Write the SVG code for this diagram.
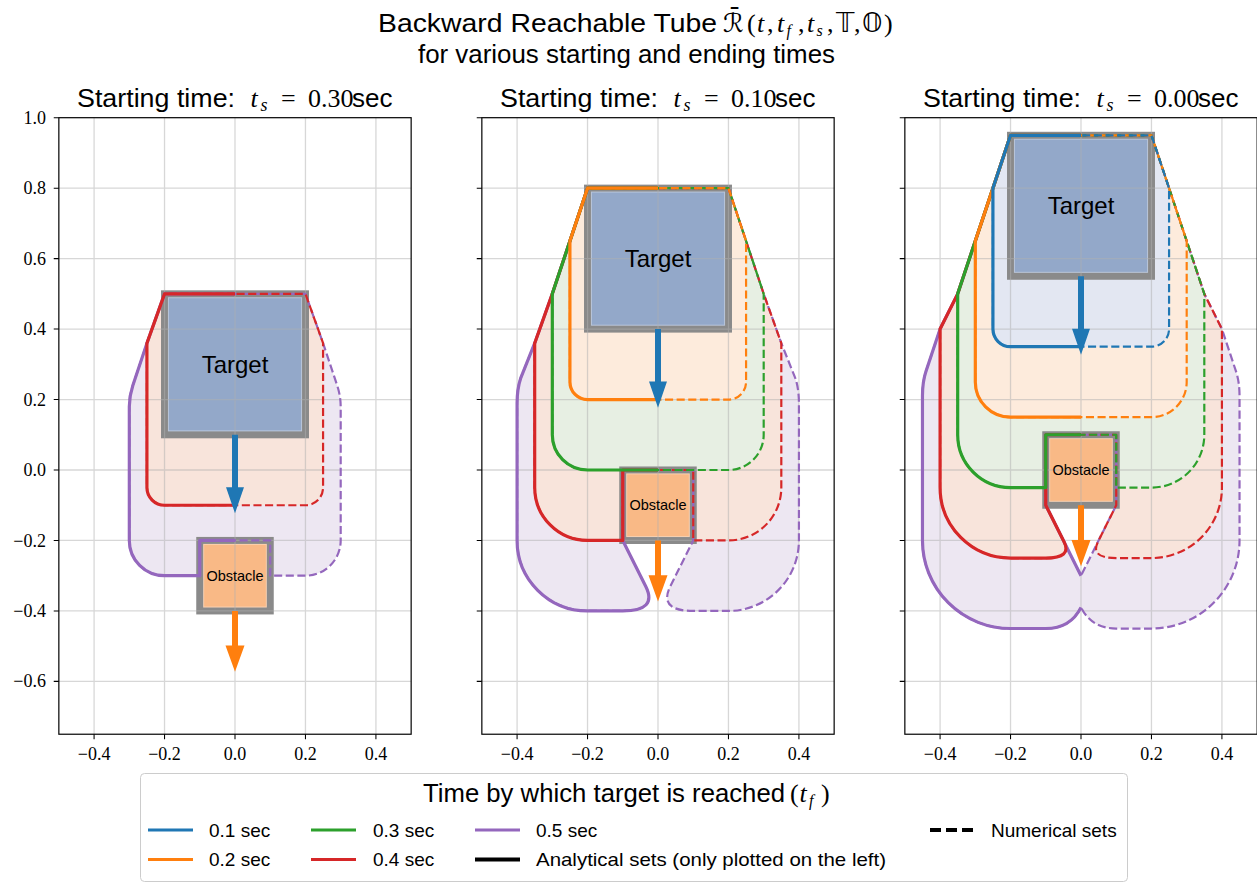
<svg xmlns="http://www.w3.org/2000/svg" width="1257" height="882" viewBox="0 0 1257 882">
<style>
  .sans{font-family:"Liberation Sans",Arial,sans-serif}
  .serif{font-family:"Liberation Serif","Times New Roman",serif}
  .sym{font-family:"DejaVu Sans","DejaVu Serif",sans-serif}
  .it{font-style:italic}
  .tick{font-family:"Liberation Serif","Times New Roman",serif;font-size:18px;fill:#000}
  .grid{fill:none;stroke:#b0b0b0;stroke-opacity:.5;stroke-width:.36}
  .spine{fill:none;stroke:#000;stroke-width:.34}
  .tickm{fill:none;stroke:#000;stroke-width:.3}
  .fP{fill:#ede7f2}
  .fR{fill:#f8e4db}
  .fG{fill:#e7efe3}
  .fO{fill:#fdebdc}
  .fB{fill:#e3e7f2}
  .sol{fill:none;stroke-width:.9;stroke-linejoin:round}
  .dsh{fill:none;stroke-width:.62;stroke-dasharray:2.3 1;stroke-linejoin:round}
  .cP{stroke:#9467bd}
  .cR{stroke:#d62728}
  .cG{stroke:#2ca02c}
  .cO{stroke:#ff7f0e}
  .cB{stroke:#1f77b4}
  .tgt{fill:#93a8c9;stroke:#8a8a8a;stroke-width:2}
  .obs{fill:#f9b986;stroke:#8a8a8a;stroke-width:2}
  .inner{fill:none;stroke:#fff;stroke-opacity:.35;stroke-width:.3}
  .lg{stroke-width:3;fill:none}
</style>
<defs>
  <!-- axes furniture in data units (1 unit = 0.01) -->
  <path id="grid" d="M-40 -75V100M-20 -75V100M0 -75V100M20 -75V100M40 -75V100M-50 80H50M-50 60H50M-50 40H50M-50 20H50M-50 0H50M-50 -20H50M-50 -40H50M-50 -60H50"/>
  <g id="frame">
    <rect class="spine" x="-50" y="-75" width="100" height="175"/>
    <path class="tickm" d="M-40 -75v-1.45M-20 -75v-1.45M0 -75v-1.45M20 -75v-1.45M40 -75v-1.45M-50 100h-1.45M-50 80h-1.45M-50 60h-1.45M-50 40h-1.45M-50 20h-1.45M-50 0h-1.45M-50 -20h-1.45M-50 -40h-1.45M-50 -60h-1.45"/>
  </g>
  <path id="arB" d="M-0.85 0L0.85 0L0.85 -14.9L2.55 -14.9L0 -22.3L-2.55 -14.9L-0.85 -14.9Z"/>
  <path id="arO" d="M-0.85 0L0.85 0L0.85 -9.85L2.7 -9.85L0 -17.3L-2.7 -9.85L-0.85 -9.85Z"/>

  <!-- ts = 0.30 -->
  <path id="s1P" d="M0 50L-20 50L-25 36L-29 24Q-30 21 -30 18L-30 -20A10 10 0 0 1 -20 -30L-10 -30L-10 -20L10 -20L10 -30L20 -30A10 10 0 0 1 30 -20L30 18Q30 21 29 24L25 36L20 50Z"/>
  <path id="s1R" d="M0 50L-20 50L-25 36L-25 -5A5 5 0 0 1 -20 -10L20 -10A5 5 0 0 1 25 -5L25 36L20 50Z"/>

  <!-- ts = 0.10 -->
  <path id="s2P" d="M0 80L-20 80L-25 65L-30 50L-35 36L-39 26Q-40 23 -40 19L-40 -20A20 20 0 0 1 -20 -40L-10 -40Q0 -40 -3.5 -33L-10 -20L-10 0L10 0L10 -20L3.5 -33Q0 -40 10 -40L20 -40A20 20 0 0 1 40 -20L40 19Q40 23 39 26L35 36L30 50L25 65L20 80Z"/>
  <path id="s2R" d="M0 80L-20 80L-25 65L-30 50L-35 36L-35 -5A15 15 0 0 1 -20 -20L-10 -20L-10 0L10 0L10 -20L20 -20A15 15 0 0 1 35 -5L35 36L30 50L25 65L20 80Z"/>
  <path id="s2G" d="M0 80L-20 80L-25 65L-30 50L-30 10A10 10 0 0 1 -20 0L20 0A10 10 0 0 1 30 10L30 50L25 65L20 80Z"/>
  <path id="s2O" d="M0 80L-20 80L-25 65L-25 25A5 5 0 0 1 -20 20L20 20A5 5 0 0 1 25 25L25 65L20 80Z"/>

  <!-- ts = 0.00 -->
  <path id="s3P" fill-rule="evenodd" d="M0 95L-20 95L-25 80L-30 65L-35 50L-40 40L-44 28Q-45 25 -45 21L-45 -20A25 25 0 0 1 -20 -45L-10 -45Q-3 -45 0 -39Q3 -45 10 -45L20 -45A25 25 0 0 1 45 -20L45 21Q45 25 44 28L40 40L35 50L30 65L25 80L20 95ZM0 10L-10 10L-10 -10L0 -30L10 -10L10 10Z"/>
  <path id="s3R" d="M0 95L-20 95L-25 80L-30 65L-35 50L-40 40L-40 -5A20 20 0 0 1 -20 -25L-10 -25Q-2.5 -25 -4.8 -20.4L-10 -10L-10 10L10 10L10 -10L4.8 -20.4Q2.5 -25 10 -25L20 -25A20 20 0 0 1 40 -5L40 40L35 50L30 65L25 80L20 95Z"/>
  <path id="s3G" d="M0 95L-20 95L-25 80L-30 65L-35 50L-35 10A15 15 0 0 1 -20 -5L-10 -5L-10 10L10 10L10 -5L20 -5A15 15 0 0 1 35 10L35 50L30 65L25 80L20 95Z"/>
  <path id="s3O" d="M0 95L-20 95L-25 80L-30 65L-30 25A10 10 0 0 1 -20 15L20 15A10 10 0 0 1 30 25L30 65L25 80L20 95Z"/>
  <path id="s3B" d="M0 95L-20 95L-25 80L-25 40A5 5 0 0 1 -20 35L20 35A5 5 0 0 1 25 40L25 80L20 95Z"/>
</defs>

<rect width="1257" height="882" fill="#fff"/>

<!-- figure title -->
<g id="suptitle" fill="#000">
  <text class="sans" font-size="26" x="378" y="31.7" textLength="339" lengthAdjust="spacingAndGlyphs">Backward Reachable Tube</text>
  <text font-size="26" y="31.7">
    <tspan class="sym" x="723">ℛ̄</tspan>
    <tspan class="serif" x="747">(</tspan>
    <tspan class="serif it" x="757">t</tspan>
    <tspan class="serif" x="767">,</tspan>
    <tspan class="serif it" x="777">t</tspan>
    <tspan class="serif it" x="786.5" dy="4" font-size="16">f</tspan>
    <tspan class="serif" x="798" dy="-4">,</tspan>
    <tspan class="serif it" x="807">t</tspan>
    <tspan class="serif it" x="816.5" dy="4" font-size="16">s</tspan>
    <tspan class="serif" x="827" dy="-4">,</tspan>
    <tspan class="sym" x="836">𝕋</tspan>
    <tspan class="serif" x="854">,</tspan>
    <tspan class="sym" x="862">𝕆</tspan>
    <tspan class="serif" x="884">)</tspan>
  </text>
  <text class="sans" font-size="26" x="418" y="63" textLength="417" lengthAdjust="spacingAndGlyphs">for various starting and ending times</text>
</g>

<!-- left panel: ts = 0.30 -->
<g id="panel1">
  <g transform="translate(235,470) scale(3.523,-3.523)">
    <use href="#s1P" class="fP"/>
    <use href="#s1R" class="fR"/>
    <g id="target1">
      <rect class="tgt" x="-20" y="10" width="40" height="40"/>
      <rect class="inner" x="-18.9" y="11.1" width="37.8" height="37.8"/>
    </g>
    <g id="obstacle1">
      <rect class="obs" x="-10" y="-40" width="20" height="20"/>
      <rect class="inner" x="-8.9" y="-38.9" width="17.8" height="17.8"/>
    </g>
    <use href="#grid" class="grid"/>
    <g id="sets1">
      <use href="#s1P" class="dsh cP"/>
      <path class="sol cP" d="M0 50L-20 50L-25 36L-29 24Q-30 21 -30 18L-30 -20A10 10 0 0 1 -20 -30L-10 -30L-10 -20L0 -20"/>
      <use href="#s1R" class="dsh cR"/>
      <path class="sol cR" d="M0 50L-20 50L-25 36L-25 -5A5 5 0 0 1 -20 -10L0 -10"/>
    </g>
    <use href="#arB" transform="translate(0,10)" fill="#1f77b4"/>
    <use href="#arO" transform="translate(0,-40)" fill="#ff7f0e"/>
    <use href="#frame"/>
  </g>
  <text class="sans" font-size="24" x="235" y="372.8" text-anchor="middle">Target</text>
  <text class="sans" font-size="14.5" x="235" y="580.8" text-anchor="middle">Obstacle</text>
  <text class="sans" font-size="26" x="77" y="106.7" textLength="158" lengthAdjust="spacingAndGlyphs">Starting time:</text>
  <text font-size="26" y="106.7"><tspan class="serif it" x="250.5">t</tspan><tspan class="serif it" x="260.5" dy="4.5" font-size="18">s</tspan><tspan class="serif" x="281" dy="-4.5">=</tspan><tspan class="serif" x="308">0.30</tspan><tspan class="sans" x="352">sec</tspan></text>
  <g class="tick" text-anchor="end">
    <text x="46" y="123.7">1.0</text>
    <text x="46" y="194.2">0.8</text>
    <text x="46" y="264.6">0.6</text>
    <text x="46" y="335.1">0.4</text>
    <text x="46" y="405.5">0.2</text>
    <text x="46" y="476">0.0</text>
    <text x="46" y="546.5">−0.2</text>
    <text x="46" y="616.9">−0.4</text>
    <text x="46" y="687.4">−0.6</text>
  </g>
  <g class="tick" text-anchor="middle">
    <text x="94.1" y="760">−0.4</text>
    <text x="164.5" y="760">−0.2</text>
    <text x="235" y="760">0.0</text>
    <text x="305.5" y="760">0.2</text>
    <text x="375.9" y="760">0.4</text>
  </g>
</g>

<!-- middle panel: ts = 0.10 -->
<g id="panel2">
  <g transform="translate(658,470) scale(3.523,-3.523)">
    <use href="#s2P" class="fP"/>
    <use href="#s2R" class="fR"/>
    <use href="#s2G" class="fG"/>
    <use href="#s2O" class="fO"/>
    <g id="target2">
      <rect class="tgt" x="-20" y="40" width="40" height="40"/>
      <rect class="inner" x="-18.9" y="41.1" width="37.8" height="37.8"/>
    </g>
    <g id="obstacle2">
      <rect class="obs" x="-10" y="-20" width="20" height="20"/>
      <rect class="inner" x="-8.9" y="-18.9" width="17.8" height="17.8"/>
    </g>
    <use href="#grid" class="grid"/>
    <g id="sets2">
      <use href="#s2P" class="dsh cP"/>
      <path class="sol cP" d="M0 80L-20 80L-25 65L-30 50L-35 36L-39 26Q-40 23 -40 19L-40 -20A20 20 0 0 1 -20 -40L-10 -40Q0 -40 -3.5 -33L-10 -20L-10 0L0 0"/>
      <use href="#s2R" class="dsh cR"/>
      <path class="sol cR" d="M0 80L-20 80L-25 65L-30 50L-35 36L-35 -5A15 15 0 0 1 -20 -20L-10 -20L-10 0L0 0"/>
      <use href="#s2G" class="dsh cG"/>
      <path class="sol cG" d="M0 80L-20 80L-25 65L-30 50L-30 10A10 10 0 0 1 -20 0L0 0"/>
      <use href="#s2O" class="dsh cO"/>
      <path class="sol cO" d="M0 80L-20 80L-25 65L-25 25A5 5 0 0 1 -20 20L0 20"/>
    </g>
    <use href="#arB" transform="translate(0,40)" fill="#1f77b4"/>
    <use href="#arO" transform="translate(0,-20)" fill="#ff7f0e"/>
    <use href="#frame"/>
  </g>
  <text class="sans" font-size="24" x="658" y="267.1" text-anchor="middle">Target</text>
  <text class="sans" font-size="14.5" x="658" y="510.3" text-anchor="middle">Obstacle</text>
  <text class="sans" font-size="26" x="500" y="106.7" textLength="158" lengthAdjust="spacingAndGlyphs">Starting time:</text>
  <text font-size="26" y="106.7"><tspan class="serif it" x="673.5">t</tspan><tspan class="serif it" x="683.5" dy="4.5" font-size="18">s</tspan><tspan class="serif" x="704" dy="-4.5">=</tspan><tspan class="serif" x="731">0.10</tspan><tspan class="sans" x="775">sec</tspan></text>
  <g class="tick" text-anchor="middle">
    <text x="517.1" y="760">−0.4</text>
    <text x="587.5" y="760">−0.2</text>
    <text x="658" y="760">0.0</text>
    <text x="728.5" y="760">0.2</text>
    <text x="798.9" y="760">0.4</text>
  </g>
</g>

<!-- right panel: ts = 0.00 -->
<g id="panel3">
  <g transform="translate(1081,470) scale(3.523,-3.523)">
    <use href="#s3P" class="fP"/>
    <use href="#s3R" class="fR"/>
    <use href="#s3G" class="fG"/>
    <use href="#s3O" class="fO"/>
    <use href="#s3B" class="fB"/>
    <g id="target3">
      <rect class="tgt" x="-20" y="55" width="40" height="40"/>
      <rect class="inner" x="-18.9" y="56.1" width="37.8" height="37.8"/>
    </g>
    <g id="obstacle3">
      <rect class="obs" x="-10" y="-10" width="20" height="20"/>
      <rect class="inner" x="-8.9" y="-8.9" width="17.8" height="17.8"/>
    </g>
    <use href="#grid" class="grid"/>
    <g id="sets3">
      <use href="#s3P" class="dsh cP"/>
      <path class="sol cP" d="M0 95L-20 95L-25 80L-30 65L-35 50L-40 40L-44 28Q-45 25 -45 21L-45 -20A25 25 0 0 1 -20 -45L-10 -45Q-3 -45 0 -39M0 10L-10 10L-10 -10L0 -30"/>
      <use href="#s3R" class="dsh cR"/>
      <path class="sol cR" d="M0 95L-20 95L-25 80L-30 65L-35 50L-40 40L-40 -5A20 20 0 0 1 -20 -25L-10 -25Q-2.5 -25 -4.8 -20.4L-10 -10L-10 10L0 10"/>
      <use href="#s3G" class="dsh cG"/>
      <path class="sol cG" d="M0 95L-20 95L-25 80L-30 65L-35 50L-35 10A15 15 0 0 1 -20 -5L-10 -5L-10 10L0 10"/>
      <use href="#s3O" class="dsh cO"/>
      <path class="sol cO" d="M0 95L-20 95L-25 80L-30 65L-30 25A10 10 0 0 1 -20 15L0 15"/>
      <use href="#s3B" class="dsh cB"/>
      <path class="sol cB" d="M0 95L-20 95L-25 80L-25 40A5 5 0 0 1 -20 35L0 35"/>
    </g>
    <use href="#arB" transform="translate(0,55)" fill="#1f77b4"/>
    <use href="#arO" transform="translate(0,-10)" fill="#ff7f0e"/>
    <use href="#frame"/>
  </g>
  <text class="sans" font-size="24" x="1081" y="214.3" text-anchor="middle">Target</text>
  <text class="sans" font-size="14.5" x="1081" y="475.1" text-anchor="middle">Obstacle</text>
  <text class="sans" font-size="26" x="923" y="106.7" textLength="158" lengthAdjust="spacingAndGlyphs">Starting time:</text>
  <text font-size="26" y="106.7"><tspan class="serif it" x="1096.5">t</tspan><tspan class="serif it" x="1106.5" dy="4.5" font-size="18">s</tspan><tspan class="serif" x="1127" dy="-4.5">=</tspan><tspan class="serif" x="1154">0.00</tspan><tspan class="sans" x="1198">sec</tspan></text>
  <g class="tick" text-anchor="middle">
    <text x="940.1" y="760">−0.4</text>
    <text x="1010.5" y="760">−0.2</text>
    <text x="1081" y="760">0.0</text>
    <text x="1151.5" y="760">0.2</text>
    <text x="1221.9" y="760">0.4</text>
  </g>
</g>

<!-- legend -->
<g id="legend">
  <rect x="140.5" y="773.5" width="987" height="108" rx="4" fill="#fff" fill-opacity=".8" stroke="#cccccc" stroke-width="1"/>
  <text class="sans" font-size="25.5" x="423" y="801.7" textLength="362" lengthAdjust="spacingAndGlyphs">Time by which target is reached</text>
  <text font-size="26" y="801.7"><tspan class="serif" x="790">(</tspan><tspan class="serif it" x="799.5">t</tspan><tspan class="serif it" x="809" dy="4" font-size="16">f</tspan><tspan class="serif" x="821" dy="-4">)</tspan></text>
  <path class="lg" stroke="#1f77b4" d="M148 830H193"/>
  <path class="lg" stroke="#ff7f0e" d="M148 859.5H193"/>
  <path class="lg" stroke="#2ca02c" d="M311 830H356"/>
  <path class="lg" stroke="#d62728" d="M311 859.5H356"/>
  <path class="lg" stroke="#9467bd" d="M475 830H520"/>
  <path stroke="#000" stroke-width="4" fill="none" d="M475 859.5H520"/>
  <path stroke="#000" stroke-width="4" fill="none" stroke-dasharray="11 5" d="M930 830H975"/>
  <g class="sans" font-size="19" fill="#000">
    <text x="209" y="836.5">0.1 sec</text>
    <text x="209" y="866">0.2 sec</text>
    <text x="373" y="836.5">0.3 sec</text>
    <text x="373" y="866">0.4 sec</text>
    <text x="536" y="836.5">0.5 sec</text>
    <text x="536" y="866" textLength="350" lengthAdjust="spacingAndGlyphs">Analytical sets (only plotted on the left)</text>
    <text x="991" y="836.5">Numerical sets</text>
  </g>
</g>
</svg>
